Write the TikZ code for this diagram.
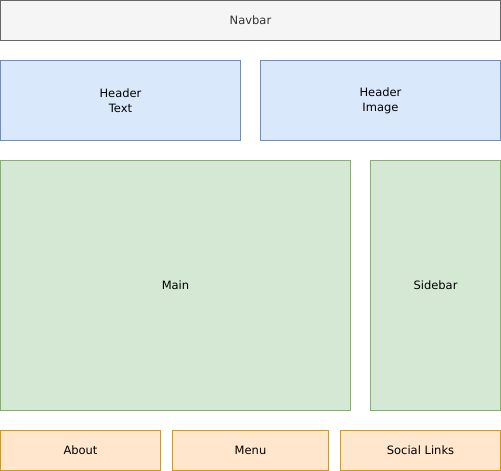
\documentclass[tikz,border=0pt]{standalone}
\usepackage{fontspec}
\setmainfont{DejaVu Sans}
\definecolor{grayfill}{HTML}{F5F5F5}
\definecolor{graydraw}{HTML}{666666}
\definecolor{graytext}{HTML}{333333}
\definecolor{bluefill}{HTML}{DAE8FC}
\definecolor{bluedraw}{HTML}{6C8EBF}
\definecolor{greenfill}{HTML}{D5E8D4}
\definecolor{greendraw}{HTML}{82B366}
\definecolor{orangefill}{HTML}{FFE6CC}
\definecolor{orangedraw}{HTML}{D79B00}
\begin{document}
\begin{tikzpicture}[x=1pt,y=-1pt,
  box/.style={draw, line width=0.8pt, font=\fontsize{11.5}{15}\selectfont, align=center},
  graybox/.style={box, fill=grayfill, draw=graydraw, text=graytext},
  bluebox/.style={box, fill=bluefill, draw=bluedraw},
  greenbox/.style={box, fill=greenfill, draw=greendraw},
  orangebox/.style={box, fill=orangefill, draw=orangedraw}]
\useasboundingbox (0,0) rectangle (501,471);
\draw[graybox] (0.5,0.5) rectangle (500.5,40.5) node[midway] (navbar) {Navbar};
\draw[bluebox] (0.5,60.5) rectangle (240.5,140.5) node[midway] (htext) {Header\\Text};
\draw[bluebox] (260.5,60.5) rectangle (500.5,140.5) node[midway] (himage) {Header\\Image};
\draw[greenbox] (0.5,160.5) rectangle (350.5,410.5) node[midway] (main) {Main};
\draw[greenbox] (370.5,160.5) rectangle (500.5,410.5) node[midway] (sidebar) {Sidebar};
\draw[orangebox] (0.5,430.5) rectangle (160.5,470.5) node[midway] (about) {About};
\draw[orangebox] (172.5,430.5) rectangle (328.5,470.5) node[midway] (menu) {Menu};
\draw[orangebox] (340.5,430.5) rectangle (500.5,470.5) node[midway] (social) {Social Links};
\end{tikzpicture}
\end{document}
